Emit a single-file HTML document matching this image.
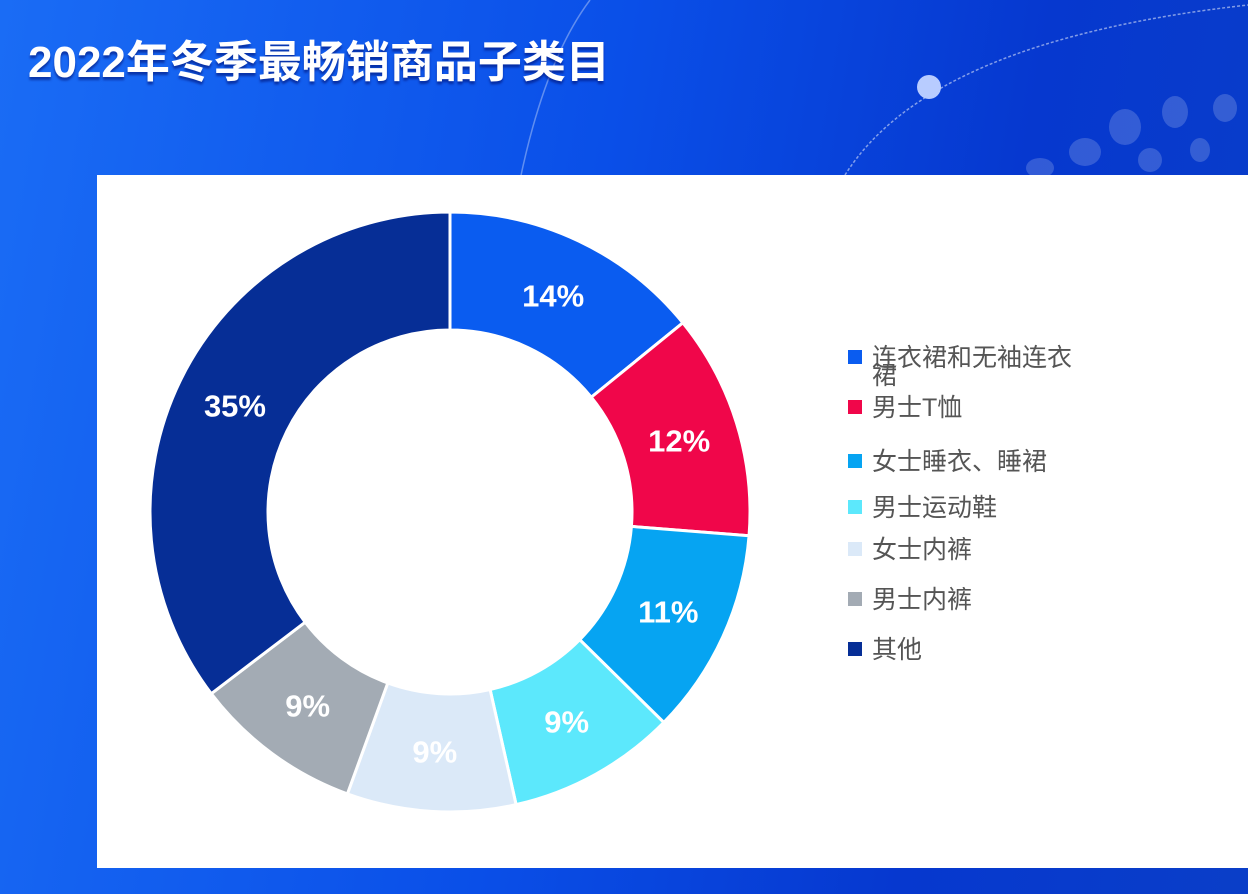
<!DOCTYPE html>
<html><head><meta charset="utf-8">
<style>
html,body{margin:0;padding:0;}
body{width:1248px;height:894px;overflow:hidden;position:relative;font-family:"Liberation Sans","Noto Sans CJK SC",sans-serif;
background:linear-gradient(100deg,#1a6cf5 0%,#0a4fe8 45%,#0638cf 75%,#0a3ec8 100%);}
#title{position:absolute;left:28px;top:26px;color:#fff;font-size:44px;font-weight:bold;letter-spacing:0px;text-shadow:0 3px 2px rgba(0,20,120,0.6);}
#card{position:absolute;left:97px;top:175px;width:1151px;height:693px;background:#fff;}
.leg{position:absolute;left:848px;font-size:25px;color:#555;line-height:28px;white-space:nowrap;}
.sw{display:inline-block;width:14px;height:14px;margin-right:10px;vertical-align:middle;position:relative;top:-2px;}
</style></head><body>
<svg width="1248" height="894" style="position:absolute;left:0;top:0">
<path d="M520 180 Q545 60 590 0" stroke="rgba(255,255,255,0.35)" fill="none" stroke-width="1.5"/>
<path d="M845 175 Q930 40 1248 5" stroke="rgba(255,255,255,0.5)" fill="none" stroke-width="1.5" stroke-dasharray="3 2"/>
<ellipse cx="929" cy="87" rx="12" ry="12" fill="#b8ccff"/>
<g fill="rgba(255,255,255,0.18)"><ellipse cx="1125" cy="127" rx="16" ry="18"/><ellipse cx="1175" cy="112" rx="13" ry="16"/><ellipse cx="1225" cy="108" rx="12" ry="14"/><ellipse cx="1085" cy="152" rx="16" ry="14"/><ellipse cx="1150" cy="160" rx="12" ry="12"/><ellipse cx="1200" cy="150" rx="10" ry="12"/><ellipse cx="1040" cy="168" rx="14" ry="10"/></g>
</svg>
<div id="title">2022年冬季最畅销商品子类目</div>
<div id="card"></div>
<svg id="donut" width="1248" height="894" style="position:absolute;left:0;top:0"></svg>
<div id="legend"></div>
<script>
const categories=["连衣裙和无袖连衣裙","男士T恤","女士睡衣、睡裙","男士运动鞋","女士内裤","男士内裤","其他"];
const values=[14,12,11,9,9,9,35];
const labels=["14%","12%","11%","9%","9%","9%","35%"];
const colors=["#0a5cf0","#f0064a","#06a4f2","#5ce8fc","#dbe9f8","#a3abb4","#062e96"];
const legendY=[344,394,448,494,536,586,636];
const cx=450,cy=512,R=300,r=182,LR=240;
const svg=document.getElementById('donut');
const NS="http://www.w3.org/2000/svg";
const total=values.reduce((a,b)=>a+b,0);
function pt(a,rad){return [cx+rad*Math.sin(a),cy-rad*Math.cos(a)];}
let acc=0;
values.forEach((v,i)=>{
  const a0=acc/total*2*Math.PI; acc+=v; const a1=acc/total*2*Math.PI;
  const lg=(a1-a0)>Math.PI?1:0;
  const [x0,y0]=pt(a0,R),[x1,y1]=pt(a1,R),[x2,y2]=pt(a1,r),[x3,y3]=pt(a0,r);
  const p=document.createElementNS(NS,'path');
  p.setAttribute('d',`M${x0} ${y0}A${R} ${R} 0 ${lg} 1 ${x1} ${y1}L${x2} ${y2}A${r} ${r} 0 ${lg} 0 ${x3} ${y3}Z`);
  p.setAttribute('fill',colors[i]);p.setAttribute('stroke','#fff');p.setAttribute('stroke-width','3');
  
  
  svg.appendChild(p);
  const [lx,ly]=pt((a0+a1)/2,LR);
  const t=document.createElementNS(NS,'text');
  t.setAttribute('x',lx);t.setAttribute('y',ly+11);t.setAttribute('text-anchor','middle');
  t.setAttribute('font-size','31');t.setAttribute('font-weight','bold');t.setAttribute('fill','#fff');
  t.setAttribute('font-family','Liberation Sans, sans-serif');
  
  
  t.textContent=labels[i];svg.appendChild(t);
});
const leg=document.getElementById('legend');
categories.forEach((c,i)=>{
  const d=document.createElement('div');d.className='leg';d.style.top=legendY[i]+'px';
  
  
  let txt=c;
  if(i===0){txt='连衣裙和无袖连衣<br><span style="margin-left:24px;position:relative;top:-10px">裙</span>';}
  d.innerHTML='<span class="sw" style="background:'+colors[i]+'"></span>'+txt;
  leg.appendChild(d);
});
</script>
</body></html>
